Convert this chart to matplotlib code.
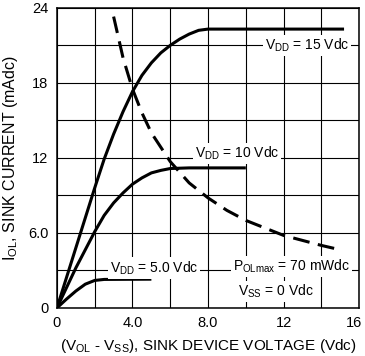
import matplotlib
matplotlib.use("Agg")
import matplotlib.pyplot as plt
from matplotlib import font_manager as fm
from matplotlib.transforms import ScaledTranslation

# plain Arial-like sans if one is around
fam = "DejaVu Sans"
for name in ["Liberation Sans", "Roboto"]:
    try:
        fm.findfont(name, fallback_to_default=False)
        fam = name
        break
    except Exception:
        pass
plt.rcParams["font.family"] = [fam, "DejaVu Sans"]
plt.rcParams["mathtext.fontset"] = "custom"
plt.rcParams["mathtext.rm"] = fam
plt.rcParams["mathtext.it"] = fam
plt.rcParams["mathtext.default"] = "rm"

## curves (V in Vdc, I in mAdc)
v_15 = [0, 1, 2, 2.5, 3, 3.5, 4, 4.5, 5, 5.5, 6, 6.5, 7, 7.5, 8, 15.2]
i_15 = [0, 4.8, 9.6, 11.9, 13.9, 15.7, 17.3, 18.6, 19.6, 20.4, 21.0, 21.5, 21.9, 22.2, 22.3, 22.3]

v_10 = [0, 1, 2, 2.5, 3, 3.5, 4, 4.5, 5, 5.5, 6, 7, 10]
i_10 = [0, 3.2, 6.1, 7.4, 8.4, 9.2, 9.9, 10.4, 10.8, 11.0, 11.15, 11.2, 11.2]

v_5 = [0, 0.5, 1, 1.5, 2, 2.5, 5]
i_5 = [0, 0.7, 1.35, 1.9, 2.2, 2.28, 2.3]

# max dissipation line (dashed)
v_p = [3.0, 3.5, 4, 4.5, 5, 6, 7, 8, 9, 10, 11, 12, 13, 14, 15]
i_p = [23.3, 20.0, 17.5, 15.6, 14.0, 11.7, 10.0, 8.8, 7.8, 7.0, 6.4, 5.8, 5.4, 5.0, 4.65]

x_ticks = [0, 4, 8, 12, 16]
x_labels = ["0", "4.0", "8.0", "12", "16"]
y_ticks = [0, 6, 12, 18, 24]
y_labels = ["0", "6.0", "12", "18", "24"]

fig = plt.figure(figsize=(3.65, 3.56), dpi=100)
ax = fig.add_axes([0.156, 0.135, 0.828, 0.843])

ax.set_xlim(0, 16)
ax.set_ylim(0, 24)
ax.set_xticks(x_ticks)
ax.set_xticklabels(x_labels)
ax.set_xticks(range(0, 17, 2), minor=True)
ax.set_yticks(y_ticks)
ax.set_yticklabels(y_labels)
ax.set_yticks(range(0, 25, 3), minor=True)
ax.grid(True, which="both", color="black", lw=0.8)
ax.set_axisbelow(True)
ax.tick_params(which="both", length=0, labelsize=10.5, pad=6)
for s in ax.spines.values():
    s.set_linewidth(1.1)

# keep the last x label inside the figure
last = ax.get_xticklabels()[-1]
last.set_transform(last.get_transform() + ScaledTranslation(-4 / 72, 0, fig.dpi_scale_trans))

lw = 2.2
ax.plot(v_15, i_15, color="black", lw=lw, solid_capstyle="butt")
ax.plot(v_10, i_10, color="black", lw=lw, solid_capstyle="butt")
ax.plot(v_5, i_5, color="black", lw=lw, solid_capstyle="butt")
ax.plot(v_p, i_p, color="black", lw=lw, dashes=(5.5, 2.8))

box = dict(facecolor="white", edgecolor="none", pad=1.5)
fs = 10
ax.text(11.0, 21.0, r"V$_{\mathrm{DD}}$ = 15 Vdc", fontsize=fs, va="center", bbox=box, zorder=5)
ax.text(7.3, 12.35, r"V$_{\mathrm{DD}}$ = 10 Vdc", fontsize=fs, va="center", bbox=box, zorder=5)
ax.text(2.8, 3.2, r"V$_{\mathrm{DD}}$ = 5.0 Vdc", fontsize=fs, va="center", bbox=box, zorder=5)
ax.text(9.3, 3.3, r"P$_{\mathrm{OL max}}$ = 70 mWdc", fontsize=fs, va="center", bbox=box, zorder=5)
ax.text(9.6, 1.3, r"V$_{\mathrm{SS}}$ = 0 Vdc", fontsize=fs, va="center", bbox=box, zorder=5)

ax.set_xlabel(r"(V$_{\mathrm{OL}}$ - V$_{\mathrm{SS}}$), SINK DEVICE VOLTAGE (Vdc)", fontsize=11, labelpad=5)
ax.set_ylabel(r"I$_{\mathrm{OL}}$, SINK CURRENT (mAdc)", fontsize=11.5, labelpad=6)

fig.savefig("out.png", dpi=100)
